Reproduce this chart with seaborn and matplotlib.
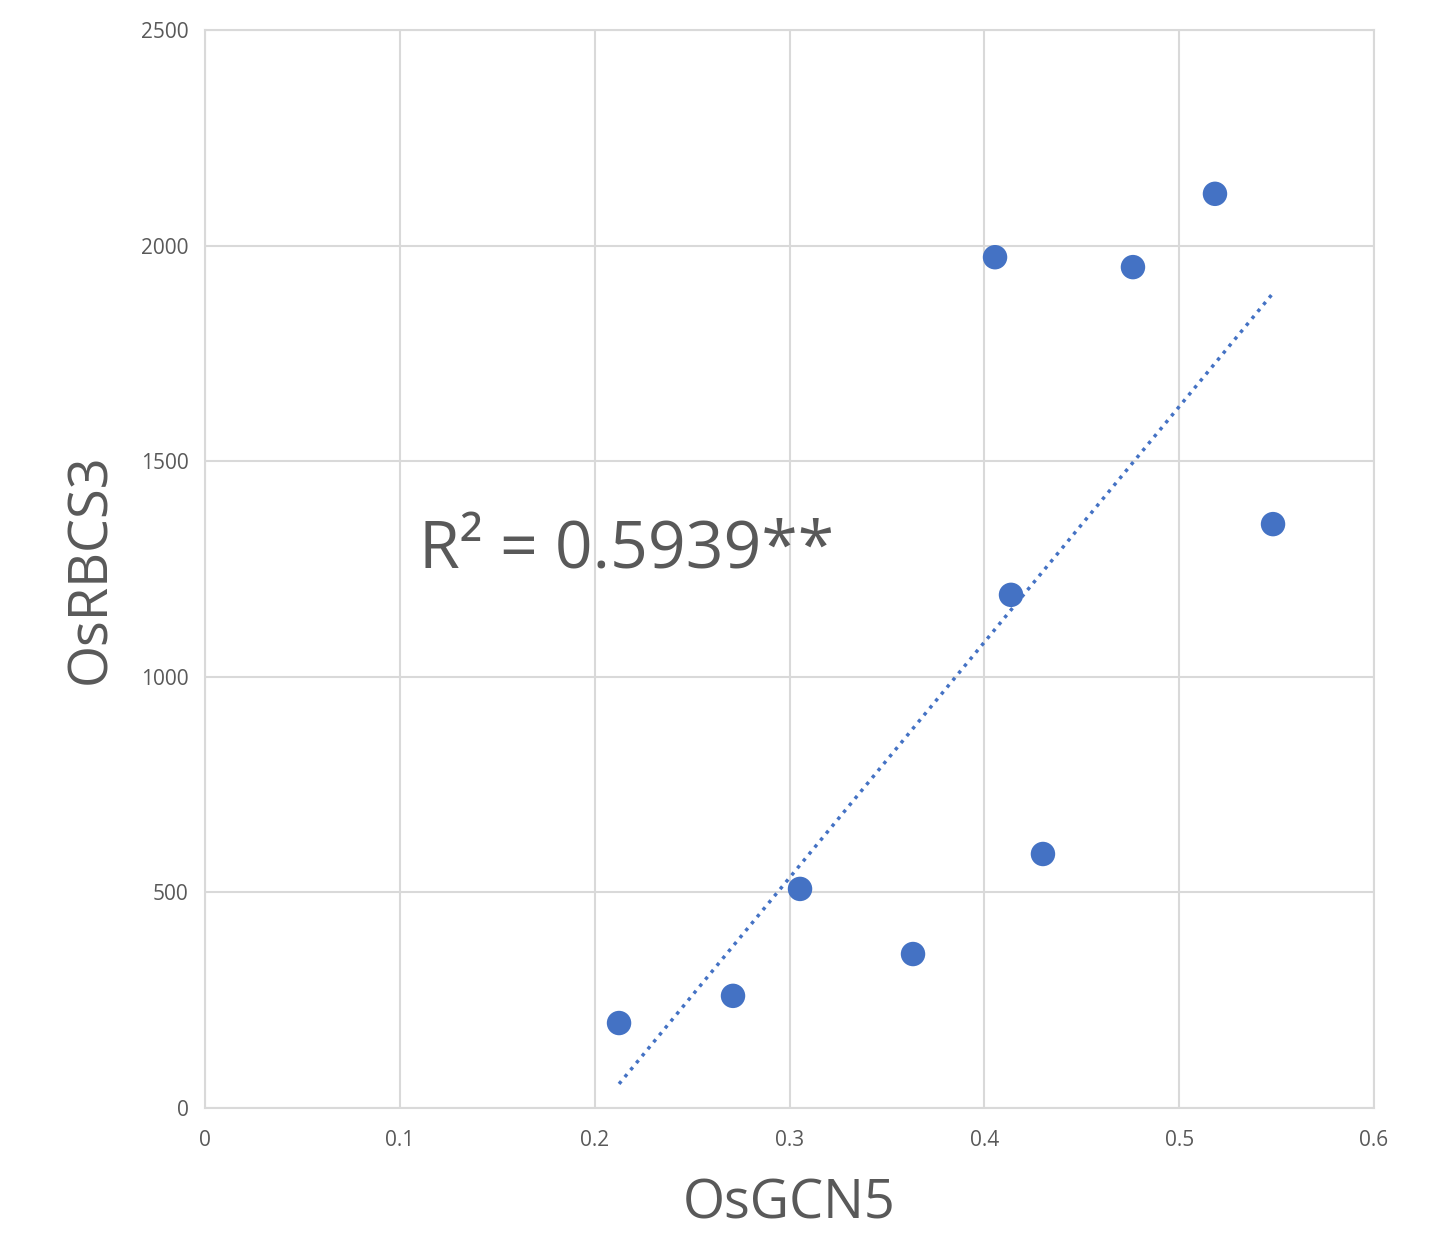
import numpy as np
import pandas as pd
import matplotlib
matplotlib.use("Agg")
import matplotlib.pyplot as plt
import seaborn as sns

gcn5 = [0.2125, 0.271, 0.3054, 0.3634, 0.4055, 0.4137, 0.4301, 0.4763, 0.5184, 0.5482]
rbcs3 = [197, 260, 508, 357, 1973, 1190, 589, 1950, 2120, 1354]
r2_label = "R² = 0.5939**"

df = pd.DataFrame({"OsGCN5": gcn5, "OsRBCS3": rbcs3})

sns.set_theme(style="whitegrid")
plt.rcParams['font.family'] = ['Open Sans', 'DejaVu Sans']

fig = plt.figure(figsize=(14.30, 12.33), dpi=100)
ax = fig.add_axes([0.1434, 0.1014, 0.8174, 0.8743])

blue = "#4472C4"
gray = "#595959"
grid = "#D9D9D9"

sns.scatterplot(data=df, x="OsGCN5", y="OsRBCS3", ax=ax, s=310, color=blue,
                edgecolor="none", zorder=3)

coef = np.polyfit(df["OsGCN5"], df["OsRBCS3"], 1)
xs = np.array([df["OsGCN5"].min(), df["OsGCN5"].max()])
ax.plot(xs, np.polyval(coef, xs), color=blue, linestyle=(0, (1, 1.6)), linewidth=2.5,
        zorder=2)

ax.set_xlim(0, 0.6)
ax.set_ylim(0, 2500)
ax.set_xticks(np.arange(0, 0.61, 0.1))
ax.set_xticklabels(["0", "0.1", "0.2", "0.3", "0.4", "0.5", "0.6"])
ax.set_yticks(np.arange(0, 2501, 500))
ax.grid(True, color=grid, linewidth=1.5)
ax.set_facecolor("white")
for s in ax.spines.values():
    s.set_color(grid)
    s.set_linewidth(1.5)
ax.tick_params(axis="both", labelsize=15, colors=gray, length=0, pad=12)
ax.tick_params(axis="x", pad=16)

ax.set_xlabel("OsGCN5", fontsize=39, color=gray, labelpad=18)
ax.set_ylabel("OsRBCS3", fontsize=39, color=gray, labelpad=16)

ax.text(0.11, 1290, r2_label, fontsize=47.5, color=gray, va="center", ha="left")

fig.savefig("out.png", dpi=100)
